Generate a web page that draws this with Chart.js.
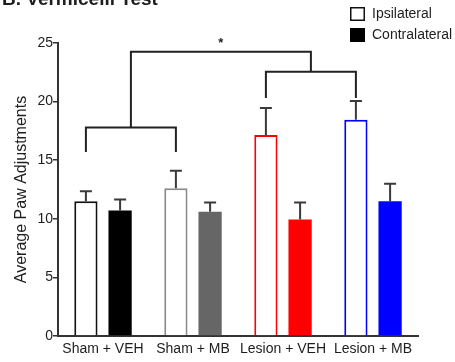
<!DOCTYPE html>
<html>
<head>
<meta charset="utf-8">
<script src="https://cdn.jsdelivr.net/npm/chart.js@4/dist/chart.umd.min.js"></script>
<style>
  html, body { margin: 0; padding: 0; background: #fff; }
  #wrap { width: 455px; height: 362px; }
</style>
</head>
<body>
<div id="wrap"><canvas id="myChart"></canvas></div>
<script>
// groups and measurements
const groups = ['Sham + VEH', 'Sham + MB', 'Lesion + VEH', 'Lesion + MB'];
const ipsiMean = [11.5, 12.6, 17.15, 18.45];
const ipsiSem = [0.85, 1.5, 2.3, 1.6];
const contraMean = [10.7, 10.6, 9.95, 11.5];
const contraSem = [0.95, 0.8, 1.45, 1.5];
const groupColors = ['#111111', '#8a8a8a', '#ff0000', '#0000ff'];
const contraFill = ['#000000', '#666666', '#ff0000', '#0000ff'];
const yTicks = [0, 5, 10, 15, 20, 25];

// significance brackets (groups joined, bar level, leg end)
const pairLeft = { a: 0, b: 1, top: 17.8, leg: 15.7 };
const pairRight = { a: 2, b: 3, top: 22.55, leg: 20.3 };
const overallTop = 24.25;
const sigMark = '*';

const font = "'Liberation Sans', Arial, Helvetica, sans-serif";
const ink = '#1e1e1e';

const errorBars = {
  id: 'errorBars',
  afterDatasetsDraw(chart) {
    const ctx = chart.ctx;
    const y = chart.scales.y;
    const sems = [ipsiSem, contraSem];
    ctx.save();
    ctx.strokeStyle = '#3a3a3a';
    ctx.lineWidth = 2;
    chart.data.datasets.forEach((ds, di) => {
      chart.getDatasetMeta(di).data.forEach((bar, i) => {
        const yTop = y.getPixelForValue(ds.data[i] + sems[di][i]);
        ctx.beginPath();
        ctx.moveTo(bar.x, bar.y);
        ctx.lineTo(bar.x, yTop);
        ctx.moveTo(bar.x - 6, yTop);
        ctx.lineTo(bar.x + 6, yTop);
        ctx.stroke();
      });
    });
    ctx.restore();
  }
};

const brackets = {
  id: 'brackets',
  afterDraw(chart) {
    const ctx = chart.ctx;
    const y = chart.scales.y;
    const bars = chart.getDatasetMeta(0).data;
    ctx.save();
    ctx.strokeStyle = '#222';
    ctx.lineWidth = 2;
    ctx.lineJoin = 'miter';
    const mids = [pairLeft, pairRight].map(p => {
      const xa = bars[p.a].x, xb = bars[p.b].x;
      const yt = y.getPixelForValue(p.top), yl = y.getPixelForValue(p.leg);
      ctx.beginPath();
      ctx.moveTo(xa, yl);
      ctx.lineTo(xa, yt);
      ctx.lineTo(xb, yt);
      ctx.lineTo(xb, yl);
      ctx.stroke();
      return { x: (xa + xb) / 2, y: yt };
    });
    const yo = y.getPixelForValue(overallTop);
    ctx.beginPath();
    ctx.moveTo(mids[0].x, mids[0].y);
    ctx.lineTo(mids[0].x, yo);
    ctx.lineTo(mids[1].x, yo);
    ctx.lineTo(mids[1].x, mids[1].y);
    ctx.stroke();
    ctx.fillStyle = ink;
    ctx.font = 'bold 13px ' + font;
    ctx.textAlign = 'center';
    ctx.textBaseline = 'middle';
    ctx.fillText(sigMark, (mids[0].x + mids[1].x) / 2, yo - 8);
    ctx.restore();
  }
};

// heading and legend boxes
const decorations = {
  id: 'decorations',
  afterDraw(chart) {
    const ctx = chart.ctx;
    ctx.save();
    ctx.fillStyle = ink;
    ctx.font = 'bold 19px ' + font;
    ctx.textAlign = 'left';
    ctx.textBaseline = 'alphabetic';
    ctx.fillText('B. Vermicelli Test', 2, 5);

    const items = chart.data.datasets;
    ctx.font = '14px ' + font;
    ctx.textBaseline = 'middle';
    items.forEach((ds, i) => {
      const top = 7 + i * 21;
      if (i === 0) {
        ctx.fillStyle = '#fff';
        ctx.fillRect(351, top + 1, 13, 12);
        ctx.strokeStyle = '#111';
        ctx.lineWidth = 1.5;
        ctx.strokeRect(350.75, top + 0.75, 13.5, 12.5);
      } else {
        ctx.fillStyle = '#000';
        ctx.fillRect(350, top, 15, 14);
      }
      ctx.fillStyle = ink;
      ctx.fillText(ds.label, 372, top + 7.5);
    });
    ctx.restore();
  }
};

new Chart(document.getElementById('myChart'), {
  type: 'bar',
  data: {
    labels: groups,
    datasets: [
      {
        label: 'Ipsilateral',
        data: ipsiMean,
        backgroundColor: '#ffffff',
        borderColor: groupColors,
        borderWidth: 2,
        borderSkipped: 'bottom'
      },
      {
        label: 'Contralateral',
        data: contraMean,
        backgroundColor: contraFill,
        borderWidth: 0
      }
    ]
  },
  options: {
    responsive: true,
    maintainAspectRatio: false,
    animation: false,
    categoryPercentage: 0.76,
    barPercentage: 0.68,
    layout: { padding: { top: 43, right: 37, bottom: 0, left: 0 } },
    plugins: {
      legend: { display: false },
      tooltip: { enabled: false }
    },
    scales: {
      x: {
        grid: { display: false, drawTicks: false },
        border: { display: true, color: '#333', width: 2 },
        ticks: { color: ink, font: { family: font, size: 14 }, padding: 5, maxRotation: 0, autoSkip: false },
        afterFit(scale) { scale.height = 26; }
      },
      y: {
        min: 0,
        max: 25,
        afterBuildTicks(scale) { scale.ticks = yTicks.map(v => ({ value: v })); },
        grid: { drawOnChartArea: false, drawTicks: true, tickLength: 5, color: '#333', lineWidth: 1.5 },
        border: { display: true, color: '#333', width: 2 },
        ticks: { color: ink, font: { family: font, size: 14 }, padding: 0 },
        title: {
          display: true,
          text: 'Average Paw Adjustments',
          color: ink,
          font: { family: font, size: 16 },
          padding: { top: 12, bottom: 0 }
        },
        afterFit(scale) { scale.width = 58; }
      }
    }
  },
  plugins: [errorBars, brackets, decorations]
});
</script>
</body>
</html>
